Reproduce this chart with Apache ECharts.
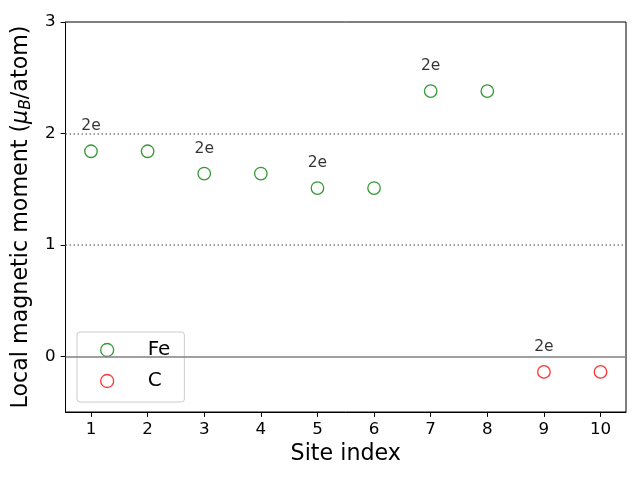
<!DOCTYPE html>
<html>
<head>
<meta charset="utf-8">
<script src="https://cdn.jsdelivr.net/npm/echarts@6/dist/echarts.min.js"></script>
<style>html,body{margin:0;padding:0;background:#fff}#c{width:640px;height:480px}</style>
</head>
<body>
<div id="c"></div>
<script>
const feSites = [1, 2, 3, 4, 5, 6, 7, 8];
const feMoments = [1.84, 1.84, 1.64, 1.64, 1.51, 1.51, 2.38, 2.38];
const feLabels = ['2e', '', '2e', '', '2e', '', '2e', ''];
const cSites = [9, 10];
const cMoments = [-0.14, -0.14];
const cLabels = ['2e', ''];
const xTicks = [1, 2, 3, 4, 5, 6, 7, 8, 9, 10];
const yTicks = [0, 1, 2, 3];
const solidRefs = [0];
const dottedRefs = [1, 2];

const FONT = 'DejaVu Sans';
const chart = echarts.init(document.getElementById('c'), null, {renderer: 'canvas'});

function mkData(xs, ys, labels) {
  return xs.map((x, i) => ({
    value: [x, ys[i]],
    label: {show: labels[i] !== '', formatter: labels[i]}
  }));
}

const labelCfg = {position: 'top', distance: 10, color: '#000', fontFamily: FONT, fontSize: 15.5};

chart.setOption({
  animation: false,
  grid: {left: 65, top: 22, right: 14, bottom: 68, show: true, borderColor: '#000', borderWidth: 1, backgroundColor: 'transparent'},
  xAxis: {
    type: 'value', min: 0.55, max: 10.45,
    name: 'Site index', nameLocation: 'middle', nameGap: 31,
    nameTextStyle: {fontFamily: FONT, fontSize: 22.2, color: '#000'},
    axisLine: {show: true, onZero: false, lineStyle: {color: '#000', width: 1}},
    axisTick: {show: true, length: 4.9, lineStyle: {color: '#000'}, customValues: xTicks},
    axisLabel: {fontFamily: FONT, fontSize: 16.7, color: '#000', margin: 9, customValues: xTicks},
    splitLine: {show: false}
  },
  yAxis: {
    type: 'value', min: -0.5, max: 3,
    name: '{a|Local magnetic moment (}{i|μ}{s|B}{a|/atom)}',
    nameLocation: 'middle', nameGap: 26, nameRotate: 90,
    nameTextStyle: {
      fontFamily: FONT, fontSize: 22.2, color: '#000',
      rich: {
        a: {fontFamily: FONT, fontSize: 22.2, color: '#000', lineHeight: 26},
        i: {fontFamily: FONT, fontSize: 22.2, fontStyle: 'italic', color: '#000', lineHeight: 26},
        s: {fontFamily: FONT, fontSize: 15.5, fontStyle: 'italic', color: '#000', lineHeight: 26, verticalAlign: 'bottom', padding: [10, 0, 0, 0]}
      }
    },
    axisLine: {show: true, onZero: false, lineStyle: {color: '#000', width: 1}},
    axisTick: {show: true, length: 4.9, lineStyle: {color: '#000'}, customValues: yTicks},
    axisLabel: {fontFamily: FONT, fontSize: 16.7, color: '#000', margin: 10, customValues: yTicks},
    splitLine: {show: false}
  },
  legend: {
    orient: 'vertical', left: 77, top: 332,
    padding: [8, 14, 11, 23],
    itemWidth: 43, itemHeight: 13, itemGap: 11,
    backgroundColor: '#fff', borderColor: '#cccccc', borderWidth: 1, borderRadius: 3,
    textStyle: {fontFamily: FONT, fontSize: 20, color: '#000', lineHeight: 20, padding: [0, 0, 0, 14]},
    data: [
      {name: 'Fe', icon: 'circle', itemStyle: {color: 'rgba(0,0,0,0)', borderColor: 'green', borderWidth: 1.3}},
      {name: 'C', icon: 'circle', itemStyle: {color: 'rgba(0,0,0,0)', borderColor: 'red', borderWidth: 1.3}}
    ]
  },
  series: [
    {
      name: 'refs', type: 'line', data: [], silent: true,
      markLine: {
        silent: true, symbol: 'none', label: {show: false},
        data: solidRefs.map(v => ({yAxis: v, lineStyle: {color: '#808080', width: 1.5, type: 'solid'}}))
          .concat(dottedRefs.map(v => ({yAxis: v, lineStyle: {color: '#808080', width: 1.5, type: [1.5, 2.5]}})))
      }
    },
    {
      name: 'Fe', type: 'scatter', symbol: 'circle', symbolSize: 12.5,
      itemStyle: {color: 'rgba(0,0,0,0)', borderColor: 'green', borderWidth: 1.3},
      label: labelCfg,
      data: mkData(feSites, feMoments, feLabels)
    },
    {
      name: 'C', type: 'scatter', symbol: 'circle', symbolSize: 12.5,
      itemStyle: {color: 'rgba(0,0,0,0)', borderColor: 'red', borderWidth: 1.3},
      label: labelCfg,
      data: mkData(cSites, cMoments, cLabels)
    }
  ]
});
</script>
</body>
</html>
